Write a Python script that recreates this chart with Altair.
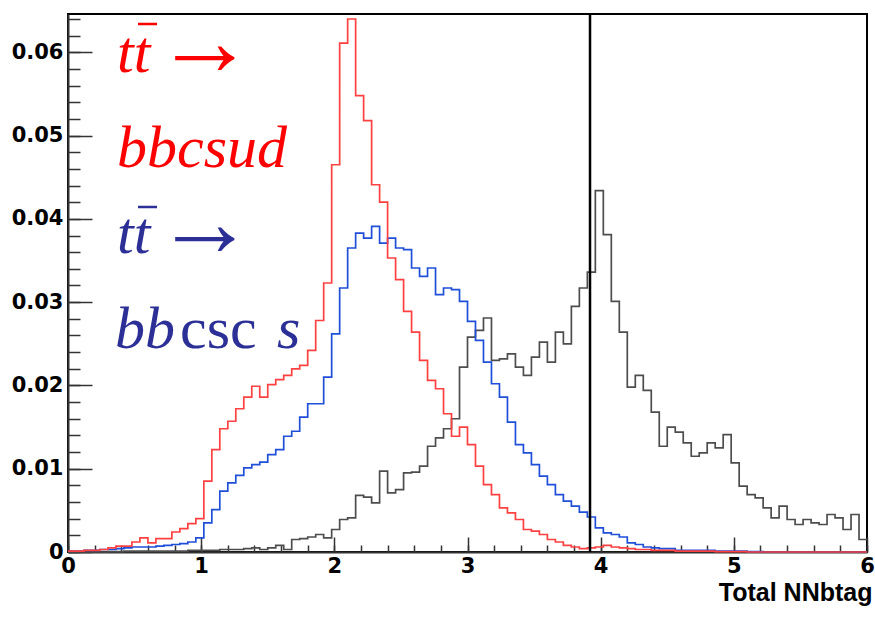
import altair as alt
import pandas as pd

# ---------------- data ----------------
BIN_EDGES = [round(i * 0.06, 2) for i in range(101)]

red_vals = [
    0.0001, 0.0001, 0.0002, 0.0002, 0.0003, 0.0005, 0.0007, 0.0007, 0.0012, 0.0017,
    0.0011, 0.0016, 0.0016, 0.0024, 0.0028, 0.0034, 0.0040,
    0.0085, 0.0123, 0.0148, 0.0157, 0.0172, 0.0186, 0.0199, 0.0186, 0.0201, 0.0207,
    0.0212, 0.0220, 0.0224, 0.0242, 0.0278, 0.0323, 0.0465,
    0.0611, 0.0640, 0.0548, 0.0518, 0.0441, 0.0420, 0.0353, 0.0327, 0.0289, 0.0264,
    0.0230, 0.0206, 0.0196, 0.0166, 0.0139, 0.0150, 0.0129,
    0.0103, 0.0081, 0.0069, 0.0053, 0.0047, 0.0039, 0.0027, 0.0025, 0.0021, 0.0015,
    0.0012, 0.0008, 0.0006, 0.0004, 0.0005, 0.0006, 0.0008,
    0.0006, 0.0005, 0.0004, 0.0003, 0.0003, 0.0002, 0.0002, 0.0002, 0.0001, 0.0001,
    0.0001, 0.0001, 0.0001, 0.00005, 0.00005, 0.00005, 0.00005,
    0, 0, 0, 0, 0, 0, 0, 0, 0, 0, 0, 0, 0, 0, 0,
]

blue_vals = [
    0.0001, 0.0001, 0.0002, 0.0002, 0.0003, 0.0003, 0.0004, 0.0005, 0.0006, 0.0006,
    0.0006, 0.0007, 0.0008, 0.0009, 0.0010, 0.0012, 0.0017,
    0.0035, 0.0051, 0.0073, 0.0083, 0.0092, 0.0101, 0.0105, 0.0108, 0.0117, 0.0123,
    0.0139, 0.0145, 0.0162, 0.0178, 0.0178, 0.0210, 0.0262,
    0.0317, 0.0365, 0.0383, 0.0377, 0.0391, 0.0371, 0.0377, 0.0365, 0.0363, 0.0341,
    0.0331, 0.0341, 0.0309, 0.0317, 0.0315, 0.0301, 0.0277,
    0.0254, 0.0228, 0.0202, 0.0186, 0.0156, 0.0129, 0.0119, 0.0105, 0.0091, 0.0081,
    0.0069, 0.0061, 0.0055, 0.0048, 0.0042, 0.0029, 0.0023,
    0.0021, 0.0018, 0.0011, 0.0009, 0.0006, 0.0005, 0.0004, 0.0004, 0.0002, 0.0002,
    0.0002, 0.0002, 0.0002, 0.0001, 0.0001, 0.0001, 0.0001,
    0.00005, 0.00005, 0, 0, 0, 0, 0, 0, 0, 0, 0, 0, 0, 0, 0,
]

gray_vals = [
    0, 0, 0, 0, 0, 0.00005, 0.00005, 0.0001, 0.0001, 0.0001,
    0.0001, 0.0001, 0.0001, 0.0001, 0.0001, 0.0002, 0.0002,
    0.0002, 0.0002, 0.0003, 0.0003, 0.0003, 0.0004, 0.0005, 0.0003, 0.0005, 0.0008,
    0.0003, 0.0015, 0.0016, 0.0018, 0.0021, 0.0017, 0.0027,
    0.0039, 0.0041, 0.0068, 0.0066, 0.0059, 0.0097, 0.0071, 0.0075, 0.0095, 0.0096,
    0.0103, 0.0127, 0.0137, 0.0148, 0.0160, 0.0222, 0.0258,
    0.0266, 0.0281, 0.0230, 0.0232, 0.0238, 0.0222, 0.0212, 0.0234, 0.0252, 0.0228,
    0.0264, 0.0250, 0.0295, 0.0317, 0.0336, 0.0434, 0.0381,
    0.0301, 0.0264, 0.0198, 0.0212, 0.0194, 0.0168, 0.0127, 0.0150, 0.0144, 0.0131,
    0.0115, 0.0119, 0.0131, 0.0125, 0.0141, 0.0107, 0.0079,
    0.0069, 0.0065, 0.0053, 0.0041, 0.0055, 0.0039, 0.0033, 0.0039, 0.0035, 0.0033,
    0.0045, 0.0041, 0.0027, 0.0045, 0.0015,
]

series_names = ["background", "bbcscs", "bbcsud"]
series_colors = ["#4d4d4d", "#1f4fd8", "#ff4040"]

x_major = [0, 1, 2, 3, 4, 5, 6]
x_minor = [round(i * 0.2, 1) for i in range(31)]
y_major = [0, 0.01, 0.02, 0.03, 0.04, 0.05, 0.06]
y_minor = [round(i * 0.002, 3) for i in range(33)]
cut_value = [3.92]

# ---------------- build table ----------------
rows = []
for name, vals in zip(series_names, [gray_vals, blue_vals, red_vals]):
    for i, v in enumerate(vals):
        rows.append({"x": BIN_EDGES[i], "v": v, "s": name})
    rows.append({"x": BIN_EDGES[-1], "v": vals[-1], "s": name})
df = pd.DataFrame(rows)

W, H = 799, 538
xs = alt.Scale(domain=[0, 6], nice=False, zero=False)
ys = alt.Scale(domain=[0, 0.0646], nice=False)

base = alt.Chart(df)

lines = base.mark_line(interpolate="step-after", strokeWidth=1.7).encode(
    x=alt.X("x:Q", scale=xs, axis=alt.Axis(
        orient="bottom", values=x_major, format="d", ticks=False, grid=False,
        domainColor="#333333", domainWidth=2, labelFlush=False,
        labelFont="DejaVu Sans", labelFontWeight="bold", labelFontSize=21,
        labelColor="black", labelPadding=3,
        title="Total NNbtag", titleAnchor="end", titleFont="Liberation Sans",
        titleFontSize=25, titleFontWeight="bold", titleColor="black",
        titlePadding=4, titleX=W + 5)),
    y=alt.Y("v:Q", scale=ys, axis=alt.Axis(
        orient="left", values=y_major, format=".2~f", ticks=False, grid=False,
        domainColor="#333333", domainWidth=2,
        labelFont="DejaVu Sans", labelFontWeight="bold", labelFontSize=21,
        labelColor="black", labelPadding=5, title=None)),
    color=alt.Color("s:N", scale=alt.Scale(domain=series_names, range=series_colors), legend=None),
)

ticks_major = base.mark_line(opacity=0).encode(
    x=alt.X("x:Q", scale=xs, axis=alt.Axis(
        orient="top", offset=-H, values=x_major, labels=False, domain=False,
        tickSize=15, tickColor="#333333", tickWidth=1.5, grid=False, title=None)),
    y=alt.Y("v:Q", scale=ys, axis=alt.Axis(
        orient="right", offset=-W, values=y_major, labels=False, domain=False,
        tickSize=24, tickColor="#333333", tickWidth=1.5, grid=False, title=None)),
    detail="s:N",
)

ticks_minor = base.mark_line(opacity=0).encode(
    x=alt.X("x:Q", scale=xs, axis=alt.Axis(
        orient="top", offset=-H, values=x_minor, labels=False, domain=False,
        tickSize=7, tickColor="#333333", tickWidth=1.5, grid=False, title=None)),
    y=alt.Y("v:Q", scale=ys, axis=alt.Axis(
        orient="right", offset=-W, values=y_minor, labels=False, domain=False,
        tickSize=12, tickColor="#333333", tickWidth=1.5, grid=False, title=None)),
    detail="s:N",
)

vline = alt.Chart(pd.DataFrame({"x": cut_value})).mark_rule(
    color="black", strokeWidth=2.5).encode(x=alt.X("x:Q", scale=xs, axis=None))

RED_TXT = "#ff0000"
BLUE_TXT = "#2b2f96"

def txt(s, x, y, color, style="italic", font="Liberation Serif", size=60):
    return alt.Chart(pd.DataFrame({"t": [s]})).mark_text(
        align="left", baseline="alphabetic", font=font,
        fontStyle=style, fontSize=size, color=color,
    ).encode(x=alt.value(x), y=alt.value(y), text="t:N")

def bar(x1, x2, y, color):
    return alt.Chart(pd.DataFrame({"d": [0]})).mark_rule(
        color=color, strokeWidth=2.5).encode(
        x=alt.value(x1), x2=alt.value(x2), y=alt.value(y))

annot = [
    txt("tt", 49, 58, RED_TXT),
    bar(70, 89, 10, RED_TXT),
    txt("\u2192", 87, 61, RED_TXT, "normal", "Liberation Serif", 100),
    txt("bbcsud", 49, 153, RED_TXT),
    txt("tt", 49, 239, BLUE_TXT),
    bar(70, 89, 193, BLUE_TXT),
    txt("\u2192", 87, 242, BLUE_TXT, "normal", "Liberation Serif", 100),
    txt("bb", 47, 334, BLUE_TXT),
    txt("csc", 112, 334, BLUE_TXT, "normal"),
    txt("s", 209, 334, BLUE_TXT),
]

chart = alt.layer(ticks_minor, ticks_major, lines, vline, *annot).resolve_axis(
    x="independent", y="independent"
).properties(
    width=W, height=H,
    autosize=alt.AutoSizeParams(type="none"),
    padding={"left": 68, "top": 14, "right": 8, "bottom": 68},
    background="white",
).configure_view(stroke="black", strokeWidth=2)

chart.save("out.html", embed_options={"renderer": "svg", "actions": False})
